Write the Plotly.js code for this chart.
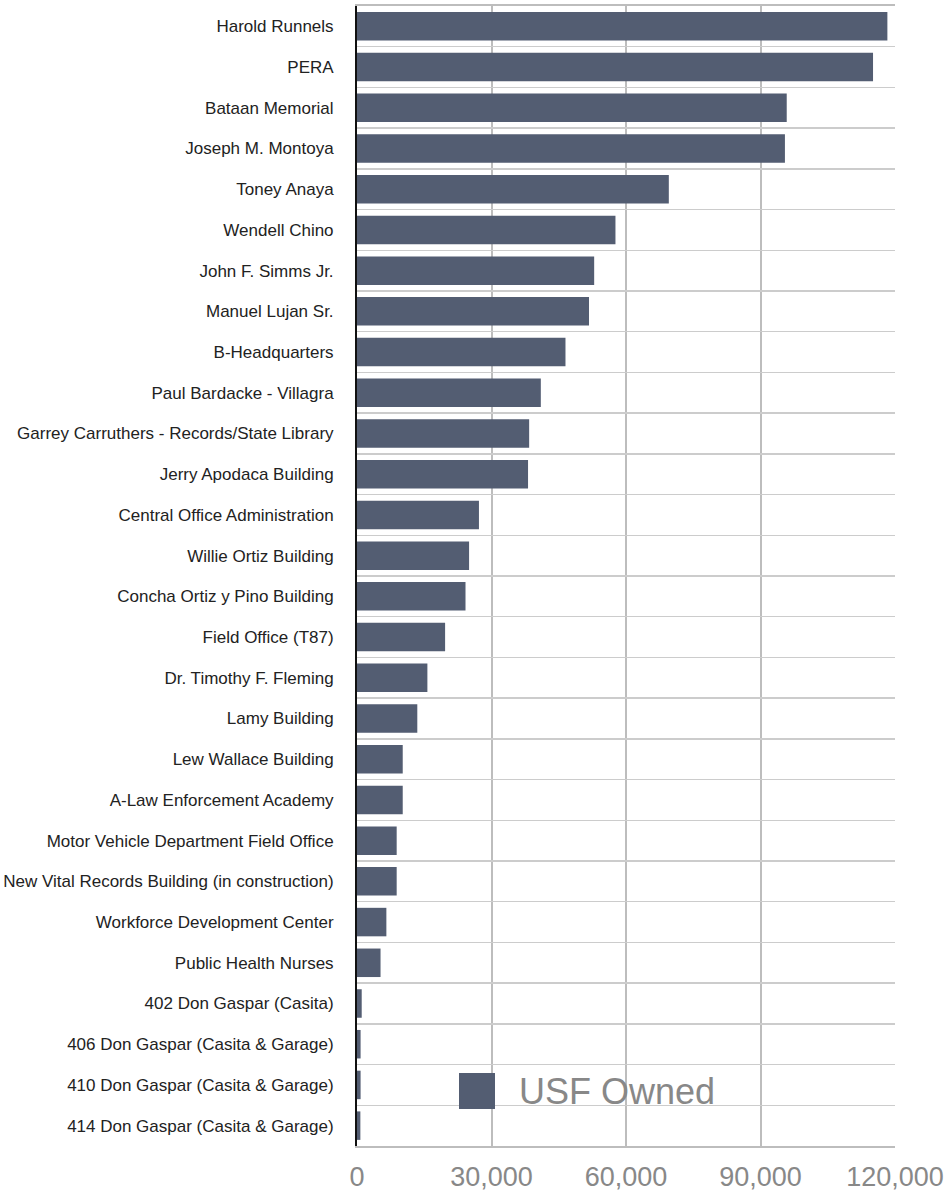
<!DOCTYPE html>
<html>
<head>
<meta charset="utf-8">
<script src="https://cdn.plot.ly/plotly-3.0.1.min.js"></script>
<style>
  html, body { margin: 0; padding: 0; background: #ffffff; }
  #chart { width: 952px; height: 1196px; }
</style>
</head>
<body>
<div id="chart"></div>
<script>
const buildings = [
  "Harold Runnels",
  "PERA",
  "Bataan Memorial",
  "Joseph M. Montoya",
  "Toney Anaya",
  "Wendell Chino",
  "John F. Simms Jr.",
  "Manuel Lujan Sr.",
  "B-Headquarters",
  "Paul Bardacke - Villagra",
  "Garrey Carruthers - Records/State Library",
  "Jerry Apodaca Building",
  "Central Office Administration",
  "Willie Ortiz Building",
  "Concha Ortiz y Pino Building",
  "Field Office (T87)",
  "Dr. Timothy F. Fleming",
  "Lamy Building",
  "Lew Wallace Building",
  "A-Law Enforcement Academy",
  "Motor Vehicle Department Field Office",
  "New Vital Records Building (in construction)",
  "Workforce Development Center",
  "Public Health Nurses",
  "402 Don Gaspar (Casita)",
  "406 Don Gaspar (Casita & Garage)",
  "410 Don Gaspar (Casita & Garage)",
  "414 Don Gaspar (Casita & Garage)"
];

const usfOwned = [
  118300, 115100, 95850, 95450, 69550, 57650, 52900, 51750,
  46500, 41000, 38400, 38150, 27200, 25000, 24200, 19650,
  15700, 13450, 10200, 10200, 8850, 8850, 6550, 5250,
  1050, 800, 800, 750
];

const seriesName = "USF Owned";
const xTickValues = [0, 30000, 60000, 90000, 120000];

const barColor = "#535d72";

const trace = {
  type: "bar",
  orientation: "h",
  name: seriesName,
  y: buildings,
  x: usfOwned,
  marker: { color: barColor, line: { width: 0 } },
  hoverinfo: "x+y",
  showlegend: false
};

const layout = {
  width: 952,
  height: 1196,
  margin: { l: 357, r: 57, t: 6, b: 50, pad: 0 },
  paper_bgcolor: "#ffffff",
  plot_bgcolor: "#ffffff",
  bargap: 0.30,
  showlegend: false,
  xaxis: {
    range: [0, 120000],
    tickvals: xTickValues,
    tickformat: ",",
    showgrid: true,
    gridcolor: "#bdbdbd",
    gridwidth: 2,
    zeroline: false,
    showline: true,
    linecolor: "#bdbdbd",
    linewidth: 2,
    mirror: true,
    ticks: "",
    ticklabelstandoff: 6,
    tickfont: { family: "Liberation Sans, Arial, sans-serif", size: 27, color: "#888888" },
    fixedrange: true
  },
  yaxis: {
    type: "category",
    autorange: "reversed",
    tickson: "boundaries",
    showgrid: true,
    gridcolor: "#cccccc",
    gridwidth: 1.5,
    zeroline: false,
    showline: true,
    linecolor: "#111111",
    linewidth: 2,
    ticks: "",
    ticklabelstandoff: 18,
    tickfont: { family: "Liberation Sans, Arial, sans-serif", size: 17, color: "#222222" },
    fixedrange: true
  },
  shapes: [
    {
      type: "rect",
      xref: "paper", yref: "paper",
      x0: 0.1896, x1: 0.2565,
      y0: 0.0325, y1: 0.064,
      fillcolor: barColor,
      line: { width: 0 }
    }
  ],
  annotations: [
    {
      xref: "paper", yref: "paper",
      x: 0.2974, y: 0.048,
      xanchor: "left", yanchor: "middle",
      showarrow: false,
      text: seriesName,
      font: { family: "Liberation Sans, Arial, sans-serif", size: 36, color: "#888888" }
    }
  ]
};

Plotly.newPlot("chart", [trace], layout, { displayModeBar: false, staticPlot: true });
</script>
</body>
</html>
